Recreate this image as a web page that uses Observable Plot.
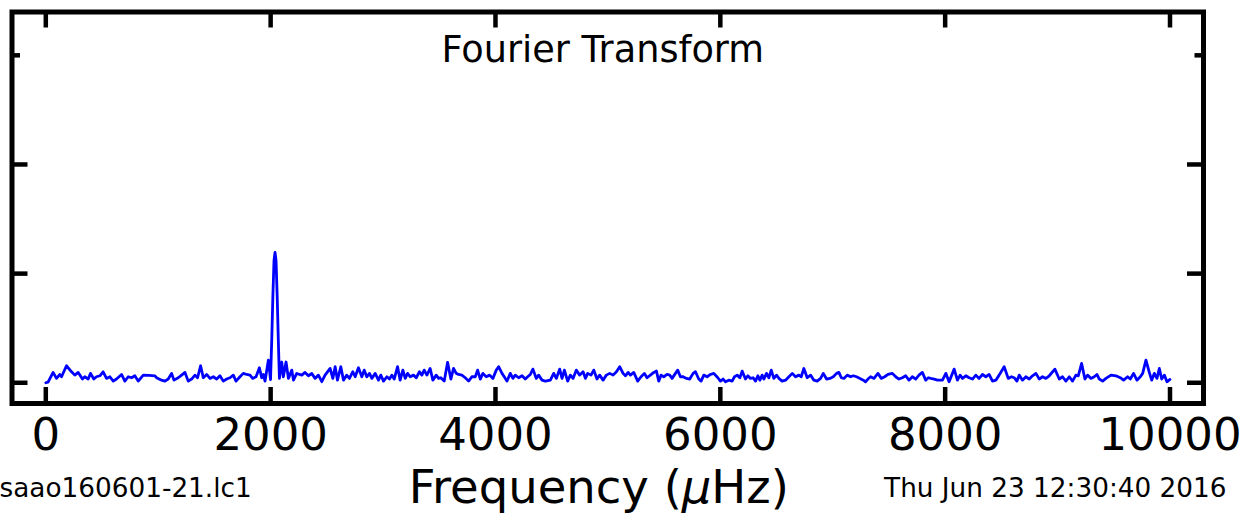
<!DOCTYPE html>
<html>
<head>
<meta charset="utf-8">
<script src="https://cdn.jsdelivr.net/npm/d3@7"></script>
<script src="https://cdn.jsdelivr.net/npm/@observablehq/plot@0.6"></script>
<style>
  html, body { margin: 0; padding: 0; background: #fff; }
  svg { display: block; }
</style>
</head>
<body>
<div id="chart"></div>
<script>
// ---- Data (frequency in µHz, amplitude in tick units) ----
const freqA = [0,20,65,95,125,140,184,229,258,288,326,347,377,398,427,451,481,510,540,570,600,629,674,703,733,763,792,822,867,920,971,985,1030,1060,1089,1119,1140,1178,1208,1238,1267,1297,1327,1350,1377,1401,1431,1460,1490,1520,1549,1579,1609,1638,1668,1692,1727,1757,1787,1816,1840,1870,1900,1920,1935,1950];
const ampA  = [0.0,0.005,0.095,0.04,0.076,0.055,0.156,0.10,0.07,0.095,0.034,0.055,0.034,0.086,0.034,0.055,0.064,0.10,0.04,0.055,0.015,0.034,0.076,0.015,0.055,0.046,0.064,0.015,0.07,0.068,0.064,0.046,0.024,0.015,0.034,0.086,0.024,0.046,0.07,0.095,0.015,0.034,0.07,0.046,0.156,0.046,0.076,0.04,0.055,0.034,0.064,0.015,0.034,0.046,0.07,0.015,0.055,0.086,0.076,0.07,0.04,0.055,0.138,0.046,0.076,0.015];

const freqB = [1980,1999,2010,2020,2030,2039,2048,2058,2068,2078,2099,2113,2137,2158,2188,2203,2232,2277,2306,2336,2366,2395,2425,2455,2484];
const ampB  = [0.208,0.03,0.4,0.8,1.12,1.195,1.12,0.8,0.4,0.04,0.19,0.055,0.19,0.04,0.116,0.025,0.085,0.07,0.095,0.064,0.085,0.04,0.07,0.01,0.07];

const freqC = [2529,2553,2574,2594,2624,2648,2677,2701,2731,2752,2781,2811,2832,2855,2879,2900,2930,2959,2980,3004,3034,3057,3078,3099,3129,3152,3176,3197,3218,3241,3271,3295,3324,3345,3366,3390,3419,3443,3473,3494,3514,3544,3574,3603,3627,3651,3672,3701,3731,3761,3790,3820,3841,3865,3888,3918,3948,3977,4007,4028,4058,4078,4102,4132,4155,4176,4206,4236,4265,4286,4310,4333,4363,4384,4414,4443,4488,4518,4541,4571,4592,4613,4642,4666,4690,4719,4749,4779,4800,4820,4850,4874,4903,4927,4957,4986,5016,5046,5076,5105,5135,5156,5180];
const ampC  = [0.131,0.040,0.147,0.024,0.147,0.024,0.070,0.040,0.101,0.055,0.138,0.055,0.116,0.055,0.086,0.040,0.086,0.024,0.070,0.015,0.055,0.034,0.070,0.034,0.147,0.024,0.116,0.040,0.086,0.055,0.070,0.046,0.101,0.070,0.116,0.070,0.131,0.024,0.070,0.040,0.046,0.015,0.187,0.034,0.131,0.086,0.076,0.070,0.046,0.015,0.055,0.055,0.116,0.034,0.086,0.055,0.070,0.040,0.116,0.147,0.086,0.055,0.015,0.086,0.040,0.070,0.046,0.064,0.034,0.055,0.076,0.125,0.040,0.070,0.024,0.015,0.024,0.086,0.040,0.125,0.040,0.116,0.015,0.070,0.040,0.116,0.070,0.101,0.040,0.086,0.070,0.116,0.034,0.070,0.024,0.070,0.086,0.070,0.101,0.147,0.086,0.064,0.095];

const freqD = [5200,5230,5265,5295,5325,5348,5378,5408,5432,5452,5473,5497,5526,5550,5571,5601,5621,5645,5669,5699,5728,5758,5779,5808,5829,5853,5883,5912,5942,5978,6001,6025,6046,6076,6105,6126,6150,6174,6194,6224,6245,6268,6292,6313,6334,6352,6372,6387,6411,6432,6453,6476,6500,6521,6550,6580,6610,6640,6669,6699,6720,6743,6773,6803,6832,6862,6892,6916,6945,6975,7005,7034,7055,7076,7100,7129,7159,7183,7212,7242,7272,7292,7313,7337,7367,7402,7432,7462,7491,7530,7560,7589,7619,7649,7678,7708,7738,7767,7797,7827,7850];
const ampD  = [0.070,0.095,0.015,0.055,0.086,0.046,0.070,0.095,0.107,0.015,0.070,0.055,0.076,0.070,0.040,0.086,0.116,0.055,0.055,0.040,0.034,0.086,0.101,0.034,0.015,0.070,0.055,0.076,0.086,0.046,0.015,0.034,0.009,0.024,0.015,0.055,0.070,0.046,0.107,0.034,0.064,0.040,0.046,0.015,0.064,0.024,0.070,0.034,0.086,0.046,0.116,0.040,0.070,0.040,0.015,0.024,0.055,0.086,0.055,0.070,0.055,0.131,0.046,0.070,0.024,0.015,0.040,0.086,0.034,0.040,0.055,0.086,0.095,0.046,0.040,0.070,0.055,0.064,0.055,0.040,0.024,0.009,0.034,0.055,0.040,0.086,0.040,0.055,0.076,0.086,0.055,0.034,0.046,0.064,0.024,0.055,0.034,0.070,0.095,0.024,0.046];

const freqE = [7872,7902,7931,7976,8006,8035,8080,8109,8133,8154,8184,8213,8243,8273,8302,8332,8362,8391,8421,8451,8480,8525,8561,8590,8614,8638,8659,8688,8718,8748,8777,8807,8837,8866,8896,8926,8976,9015,9044,9074,9104,9133,9163,9184,9214,9243,9267,9297,9326,9350,9371,9401,9430,9475,9519,9558,9587,9623,9647,9676,9706,9736,9757,9786,9816,9837,9861,9884,9905,9926,9950,9973,10000];
const ampE  = [0.040,0.034,0.024,0.024,0.086,0.009,0.125,0.024,0.070,0.040,0.064,0.046,0.034,0.070,0.040,0.076,0.055,0.076,0.015,0.024,0.070,0.147,0.040,0.055,0.046,0.015,0.070,0.024,0.055,0.034,0.064,0.086,0.034,0.055,0.040,0.064,0.125,0.034,0.055,0.015,0.055,0.015,0.070,0.064,0.177,0.034,0.070,0.040,0.055,0.076,0.034,0.015,0.040,0.070,0.064,0.046,0.024,0.055,0.034,0.086,0.024,0.055,0.086,0.208,0.095,0.024,0.086,0.040,0.131,0.034,0.070,0.009,0.03];

const xTicks = [0, 2000, 4000, 6000, 8000, 10000];
const yTicksLong = [0, 1, 2];
const yTicksShort = [3];

const titleText = "Fourier Transform";
const xLabelText = "Frequency (μHz)";
const fileText = "saao160601-21.lc1";
const dateText = "Thu Jun 23 12:30:40 2016";

// ---- Build table ----
const freqAll = [].concat(freqA, freqB, freqC, freqD, freqE);
const ampAll = [].concat(ampA, ampB, ampC, ampD, ampE);
const spectrum = freqAll.map((f, i) => ({f, a: ampAll[i]}));

// ---- Layout ----
const W = 1244, H = 514;
const mL = 11.5, mR = 41, mT = 11.5, mB = 111;
const innerW = W - mL - mR;
const innerH = H - mT - mB;
const tickLong = 16, tickShort = 8.5, tickW = 4.5;
const font = "DejaVu Sans";

const chart = Plot.plot({
  width: W, height: H,
  marginLeft: mL, marginRight: mR, marginTop: mT, marginBottom: mB,
  style: {fontFamily: font, background: "#fff", color: "#000", overflow: "visible"},
  x: {domain: [-300.7, 10298], axis: null},
  y: {domain: [-0.19, 3.397], axis: null},
  marks: [
    Plot.line(spectrum, {x: "f", y: "a", stroke: "#0000ff", strokeWidth: 2.8, strokeLinejoin: "round"}),
    Plot.tickX(xTicks, {x: d => d, stroke: "#000", strokeWidth: tickW, insetTop: innerH - tickLong}),
    Plot.tickX(xTicks, {x: d => d, stroke: "#000", strokeWidth: tickW, insetBottom: innerH - tickLong}),
    Plot.tickY(yTicksLong, {y: d => d, stroke: "#000", strokeWidth: tickW, insetRight: innerW - tickLong}),
    Plot.tickY(yTicksLong, {y: d => d, stroke: "#000", strokeWidth: tickW, insetLeft: innerW - tickLong}),
    Plot.tickY(yTicksShort, {y: d => d, stroke: "#000", strokeWidth: tickW, insetRight: innerW - tickShort}),
    Plot.tickY(yTicksShort, {y: d => d, stroke: "#000", strokeWidth: tickW, insetLeft: innerW - tickShort}),
    Plot.frame({stroke: "#000", strokeWidth: 5}),
    Plot.text(xTicks, {x: d => d, text: d => String(d), frameAnchor: "bottom", dy: 46, lineAnchor: "bottom", fontSize: 45, fill: "#000"}),
    Plot.text([titleText], {text: d => d, frameAnchor: "top", dx: -5, dy: 50.2, lineAnchor: "bottom", fontSize: 36.7, fill: "#000"}),
    Plot.text([xLabelText], {text: d => d, frameAnchor: "bottom", dx: -9, dy: 99, lineAnchor: "bottom", fontSize: 46.5, fill: "#000"}),
    Plot.text([fileText], {text: d => d, frameAnchor: "bottom-left", dx: -12.5, dy: 93, textAnchor: "start", lineAnchor: "bottom", fontSize: 26.3, fill: "#000"}),
    Plot.text([dateText], {text: d => d, frameAnchor: "bottom-right", dx: 23, dy: 93, textAnchor: "end", lineAnchor: "bottom", fontSize: 26.3, fill: "#000"})
  ]
});

// italic µ as in the reference's math text
const lab = Array.from(chart.querySelectorAll("text")).find(t => t.textContent === xLabelText);
if (lab) {
  const parts = xLabelText.split("μ");
  lab.textContent = "";
  lab.appendChild(document.createTextNode(parts[0]));
  const ts = document.createElementNS("http://www.w3.org/2000/svg", "tspan");
  ts.setAttribute("font-style", "italic");
  ts.textContent = "μ";
  lab.appendChild(ts);
  lab.appendChild(document.createTextNode(parts[1]));
}

document.getElementById("chart").appendChild(chart);
</script>
</body>
</html>
